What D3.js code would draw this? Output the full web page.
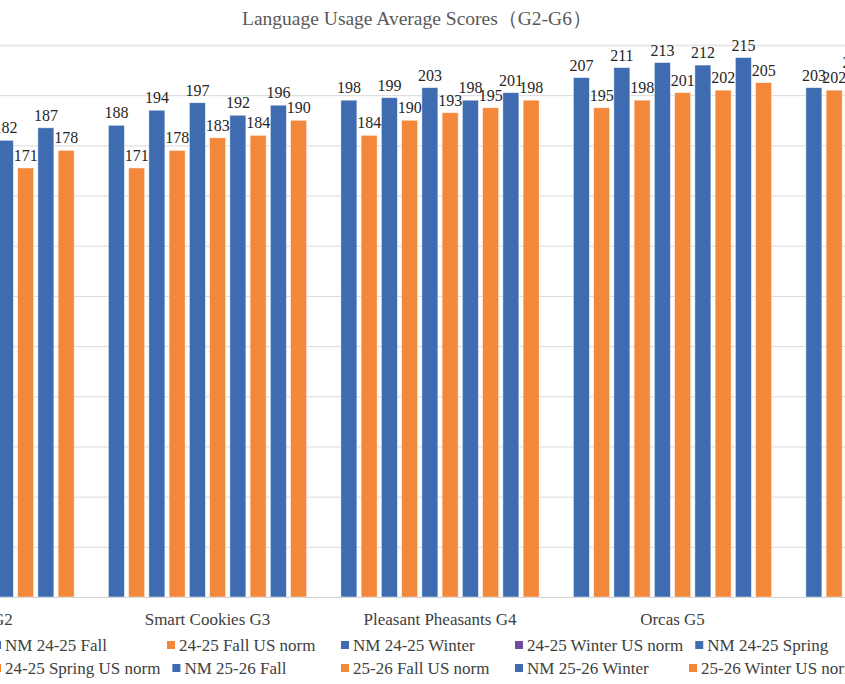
<!DOCTYPE html>
<html>
<head>
<meta charset="utf-8">
<script src="https://cdn.jsdelivr.net/npm/d3@7"></script>
<style>
  body { margin: 0; background: #fff; }
  svg { display: block; font-family: "Liberation Serif", "Times New Roman", serif; }
</style>
</head>
<body>
<div id="chart"></div>
<script>
// Categories (first and last groups are partly off the picture)
const groups = ["Wolves G2", "Smart Cookies G3", "Pleasant Pheasants G4", "Orcas G5", "Dolphins G6"];

const seriesNames = [
  "NM 24-25 Fall",
  "24-25 Fall US norm",
  "NM 24-25 Winter",
  "24-25 Winter US norm",
  "NM 24-25 Spring",
  "24-25 Spring US norm",
  "NM 25-26 Fall",
  "25-26 Fall US norm",
  "NM 25-26 Winter",
  "25-26 Winter US norm",
];

// Series values, one per group
const nm2425Fall = [168, 188, 198, 207, 203];
const norm2425Fall = [160, 171, 184, 195, 202];
const nm2425Winter = [174, 194, 199, 211, 208];
const norm2425Winter = [166, 178, 190, 198, 205];
const nm2425Spring = [179, 197, 203, 213, 211];
const norm2425Spring = [171, 183, 193, 201, 207];
const nm2526Fall = [182, 192, 198, 212, 210];
const norm2526Fall = [171, 184, 195, 202, 208];
const nm2526Winter = [187, 196, 201, 215, 213];
const norm2526Winter = [178, 190, 198, 205, 210];

const yTicks = [0, 20, 40, 60, 80, 100, 120, 140, 160, 180, 200, 220];

const seriesValues = [
  nm2425Fall, norm2425Fall, nm2425Winter, norm2425Winter, nm2425Spring,
  norm2425Spring, nm2526Fall, norm2526Fall, nm2526Winter, norm2526Winter,
];

const data = groups.map((g, gi) => ({
  group: g,
  values: seriesNames.map((s, si) => ({ series: s, value: seriesValues[si][gi] })),
}));

// Set up dimensions
let width = 845;
let height = 684;
let plot = { left: -141.25, right: 1021.25, top: 45, bottom: 597 };

// Set up colors
let blue = "#3f6cb1";
let orange = "#f3873a";
let purple = "#7049a0";
let barColor = (s) => (s.startsWith("NM") ? blue : orange);
let legendColor = (s) => (s === "24-25 Winter US norm" ? purple : barColor(s));

// Set up scales
let x0 = d3.scaleBand().domain(groups).range([plot.left, plot.right]);

let x1 = d3
  .scaleBand()
  .domain(seriesNames)
  .range([x0.bandwidth() / 2 - 101.25, x0.bandwidth() / 2 + 101.25])
  .paddingInner(0.21)
  .paddingOuter(0.105);

let y = d3.scaleLinear().domain([0, 220]).range([plot.bottom, plot.top]);

const svg = d3
  .select("#chart")
  .append("svg")
  .attr("width", width)
  .attr("height", height);

// Draw title
svg
  .append("text")
  .attr("x", 417)
  .attr("y", 25)
  .attr("text-anchor", "middle")
  .attr("fill", "#595959")
  .style("font-size", "19.5px")
  .text("Language Usage Average Scores（G2-G6）");

// Draw gridlines
const gridG = svg
  .append("g")
  .attr("class", "grid")
  .attr("transform", `translate(${plot.left},0)`)
  .call(
    d3
      .axisLeft(y)
      .tickValues(yTicks)
      .tickSize(-(plot.right - plot.left))
      .tickFormat("")
  );
gridG.select(".domain").remove();
gridG
  .selectAll(".tick line")
  .attr("stroke", (d) => (d === 0 ? "#d0d0d0" : "#d9d9d9"))
  .attr("stroke-width", (d) => (d === 220 ? 2 : 1))
  .attr("stroke-opacity", (d) => (d === 220 ? 0.6 : 1));

// Draw bar groups
const groupG = svg
  .append("g")
  .selectAll("g")
  .data(data)
  .join("g")
  .attr("transform", (d) => `translate(${x0(d.group)},0)`);

groupG
  .selectAll("rect")
  .data((d) => d.values)
  .join("rect")
  .attr("x", (d) => x1(d.series))
  .attr("y", (d) => y(d.value))
  .attr("width", x1.bandwidth())
  .attr("height", (d) => y(0) - y(d.value))
  .attr("fill", (d) => barColor(d.series))
  .attr("stroke", "#fff")
  .attr("stroke-opacity", 0.6)
  .attr("stroke-width", 0.75);

// Draw data labels
groupG
  .selectAll("text")
  .data((d) => d.values)
  .join("text")
  .attr("x", (d) => x1(d.series) + x1.bandwidth() / 2)
  .attr("y", (d) => y(d.value) - 7)
  .attr("text-anchor", "middle")
  .attr("fill", "#262626")
  .style("font-size", "16px")
  .text((d) => d.value);

// Draw category labels
svg
  .append("g")
  .selectAll("text")
  .data(groups)
  .join("text")
  .attr("x", (d) => x0(d) + x0.bandwidth() / 2)
  .attr("y", 625)
  .attr("text-anchor", "middle")
  .attr("fill", "#404040")
  .style("font-size", "17px")
  .text((d) => d);

// Draw legend
let legendCols = 5;
let colStart = -7;
let colStep = 174;
let rowY = [645, 668];

const legendG = svg.append("g").attr("class", "legend");
let prevEnd = [-Infinity, -Infinity];

seriesNames.forEach((s, i) => {
  let row = Math.floor(i / legendCols);
  let col = i % legendCols;
  let x = Math.max(colStart + col * colStep, prevEnd[row] + 12);
  let item = legendG.append("g").attr("transform", `translate(${x},${rowY[row]})`);
  item
    .append("rect")
    .attr("x", 0)
    .attr("y", -4)
    .attr("width", 8)
    .attr("height", 8)
    .attr("fill", legendColor(s));
  let label = item
    .append("text")
    .attr("x", 12)
    .attr("y", 6)
    .attr("fill", "#404040")
    .style("font-size", "17px")
    .text(s);
  prevEnd[row] = x + 12 + label.node().getComputedTextLength();
});
</script>
</body>
</html>
